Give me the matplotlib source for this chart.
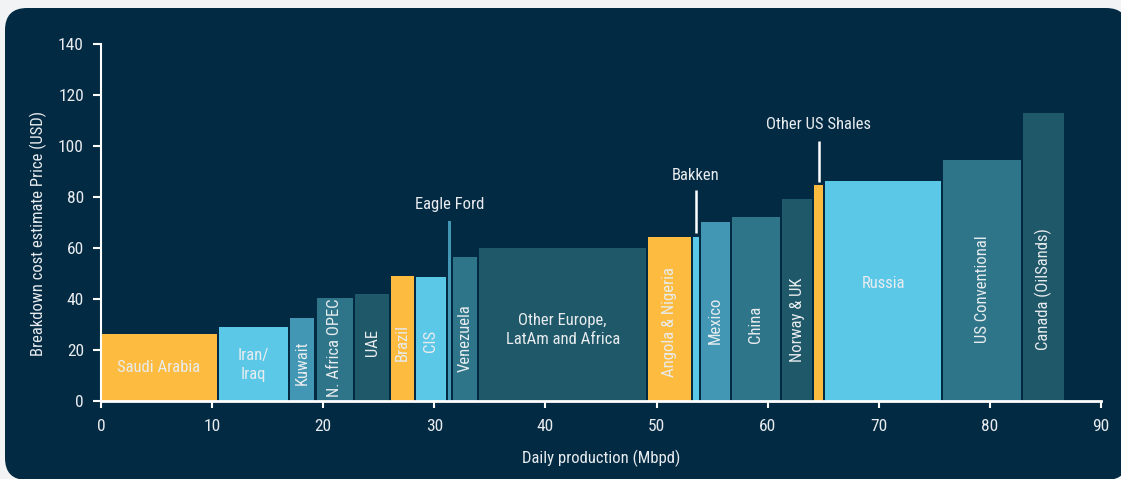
import matplotlib
matplotlib.use("Agg")
import matplotlib.pyplot as plt
from matplotlib.patches import FancyBboxPatch
import numpy as np

# ---- data ----
categories = ["Saudi Arabia", "Iran/\nIraq", "Kuwait", "N. Africa OPEC", "UAE", "Brazil", "CIS",
              "Eagle Ford", "Venezuela", "Other Europe,\nLatAm and Africa", "Angola & Nigeria",
              "Bakken", "Mexico", "China", "Norway & UK", "Other US Shales", "Russia",
              "US Conventional", "Canada (OilSands)"]
production = [10.6, 6.4, 2.4, 3.5, 3.2, 2.25, 2.9, 0.45, 2.35, 15.2, 4.05, 0.7, 2.8, 4.5, 2.9, 1.0, 10.6, 7.2, 3.9]
price = [26.3, 29.0, 32.5, 40.4, 42.0, 49.0, 48.6, 70.6, 56.5, 60.0, 64.3, 64.3, 70.2, 72.2, 79.2, 84.7, 86.3, 94.5, 112.9]
x_ticks = [0, 10, 20, 30, 40, 50, 60, 70, 80, 90]
y_ticks = [0, 20, 40, 60, 80, 100, 120, 140]

# ---- style ----
BG = "#032A43"
OUT = "#F1F3F5"
YEL = "#FDBC3F"
LBL = "#5CC8E8"
TEAL = "#4298B4"
MID = "#2F7589"
DARK = "#1F5869"
TXT = "#E8ECEF"
colors = [YEL, LBL, TEAL, MID, DARK, YEL, LBL, TEAL, MID, DARK, YEL, LBL, TEAL, MID, DARK, YEL, LBL, MID, DARK]

# inside label style: (rotation, y-position)
inside = {
    "Saudi Arabia": (0, 13), "Iran/\nIraq": (0, 14), "Kuwait": (90, 15), "N. Africa OPEC": (90, 21),
    "UAE": (90, 23), "Brazil": (90, 23), "CIS": (90, 23.5), "Venezuela": (90, 24.7),
    "Other Europe,\nLatAm and Africa": (0, 28), "Angola & Nigeria": (90, 31), "Mexico": (90, 31.8),
    "China": (90, 30), "Norway & UK": (90, 32), "Russia": (0, 46), "US Conventional": (90, 44),
    "Canada (OilSands)": (90, 44),
}
# callouts: text y position, line start/end
callouts = {
    "Eagle Ford": (76.9, None),
    "Bakken": (88.6, (82.7, 65.9)),
    "Other US Shales": (108.6, (102.0, 85.9)),
}

plt.rcParams['font.family'] = ['Roboto Condensed', 'Liberation Sans Narrow', 'DejaVu Sans']
plt.rcParams['font.stretch'] = 'condensed'

fig = plt.figure(figsize=(11.21, 4.79), dpi=100)
fig.patch.set_facecolor(OUT)
panel = FancyBboxPatch((0.05, -0.01), 11.23, 4.72, boxstyle="round,pad=0,rounding_size=0.22",
                       transform=fig.dpi_scale_trans, facecolor=BG, edgecolor="none", zorder=-10)
fig.patches.append(panel)

ax = fig.add_axes([101 / 1121, 1 - 401 / 479, 1000 / 1121, 357 / 479])
ax.set_facecolor("none")
ax.set_zorder(5)

gap = 0.2
lefts = np.concatenate([[0], np.cumsum(production)[:-1]])
for cat, left, w, p, c in zip(categories, lefts, production, price, colors):
    ax.bar(left, p, width=w - gap, align="edge", color=c, edgecolor="none", zorder=2)
    cx = left + (w - gap) / 2
    if cat in inside:
        rot, yy = inside[cat]
        ax.text(cx, yy, cat, rotation=rot, ha="center", va="center", color=TXT,
                fontsize=12, linespacing=1.35, zorder=3)
    if cat in callouts:
        ty, line = callouts[cat]
        ax.text(cx, ty, cat, ha="center", va="center", color=TXT, fontsize=12, zorder=3)
        if line is not None:
            ax.plot([cx, cx], list(line), color="white", lw=1.8, zorder=3, solid_capstyle="butt")

ax.set_xlim(0, 90)
ax.set_ylim(0, 140)
ax.set_xticks(x_ticks)
ax.set_yticks(y_ticks)
for s in ["top", "right"]:
    ax.spines[s].set_visible(False)
ax.spines["left"].set_color("white")
ax.spines["bottom"].set_color("white")
ax.spines["left"].set_linewidth(1.5)
ax.spines["bottom"].set_linewidth(2)
ax.spines["bottom"].set_zorder(4)
ax.tick_params(axis="both", colors="white", labelcolor=TXT, labelsize=12.5, width=1.5, direction="out")
ax.tick_params(axis="y", length=5.8, pad=6.5)
ax.tick_params(axis="x", length=5, pad=8)
ax.set_xlabel("Daily production (Mbpd)", color=TXT, fontsize=12, labelpad=11)
ax.set_ylabel("Breakdown cost estimate Price (USD)", color=TXT, fontsize=12)
ax.yaxis.set_label_coords(-0.054, 0.47)

fig.savefig("out.png", dpi=100, facecolor=OUT)
